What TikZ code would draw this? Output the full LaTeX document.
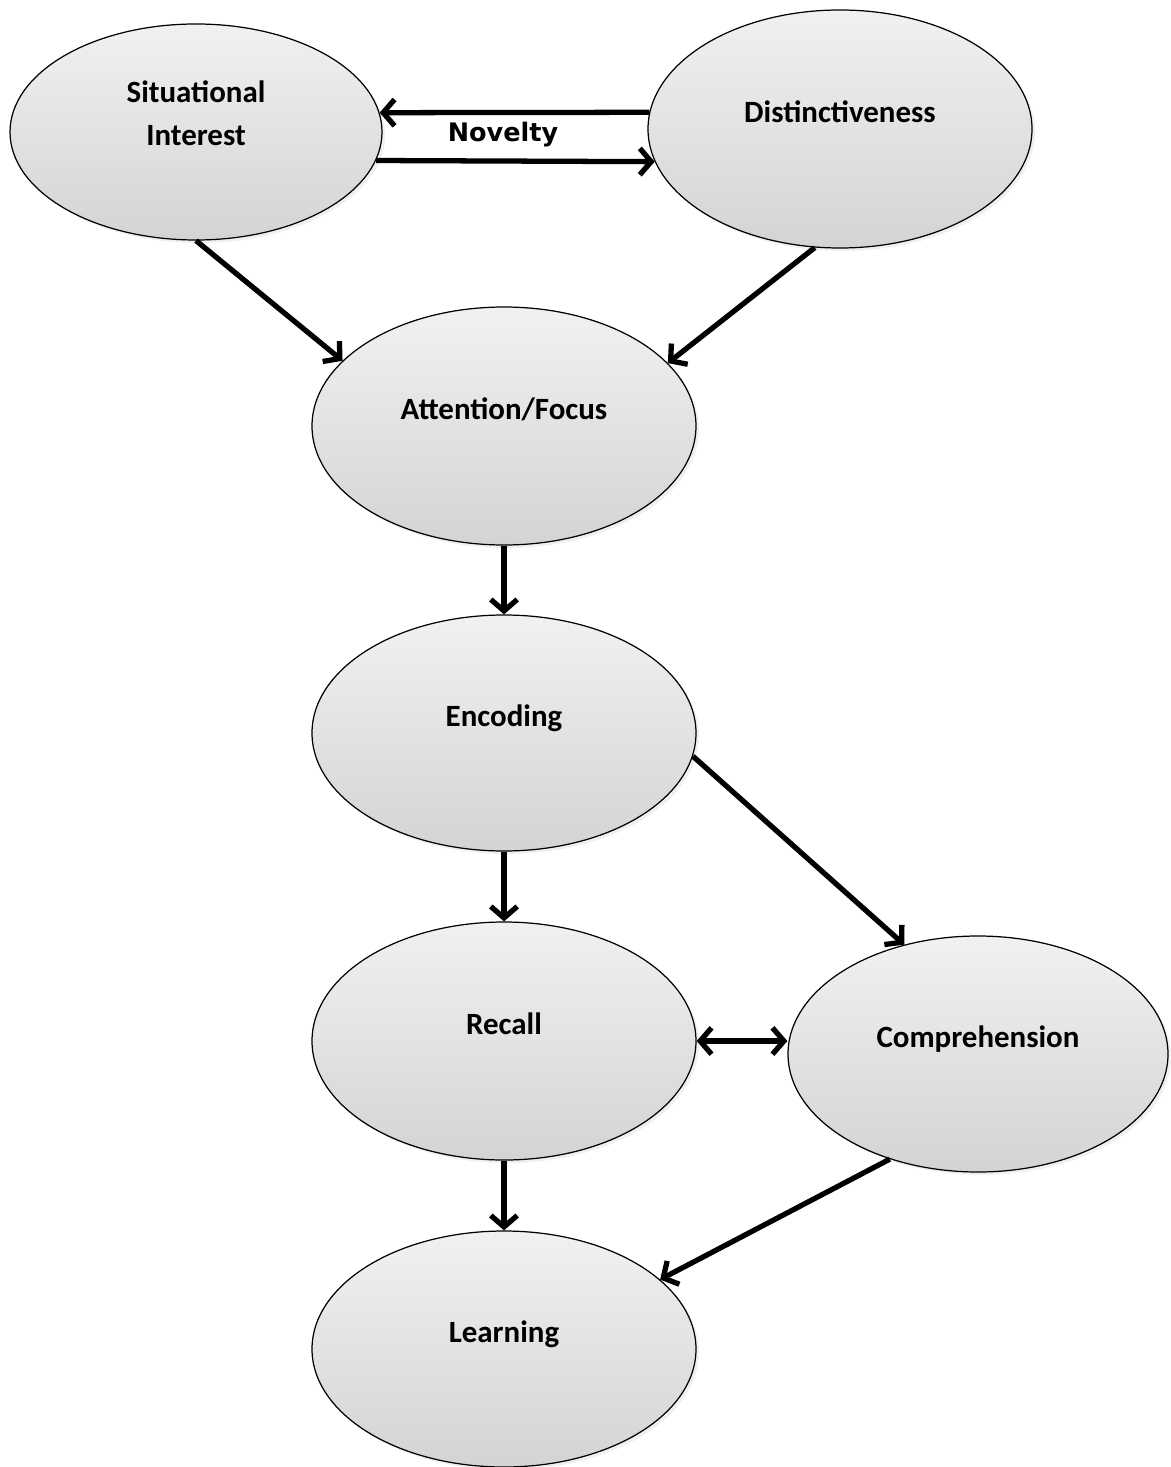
\documentclass[tikz,border=0pt]{standalone}
\usepackage{fontspec}
\setmainfont{Carlito}
\newfontfamily\novfont{DejaVu Sans}
\usepackage{tikz}
\usetikzlibrary{shapes.geometric,arrows.meta,shadows}

\tikzset{
  bubble/.style={ellipse,draw=black,line width=0.7pt,top color=gray!11,bottom color=gray!34,
    minimum width=7.68cm,minimum height=4.76cm,inner sep=0pt,align=center,
    font=\fontsize{17.6}{24.5}\selectfont\bfseries,text depth=0.68cm,
    drop shadow={opacity=0.12,shadow xshift=0.06cm,shadow yshift=-0.06cm}},
  barb/.tip={Straight Barb[length=6.5pt,width=15pt,line width=3pt]},
  arr/.style={line width=3pt,-barb},
}

\begin{document}
\begin{tikzpicture}
\useasboundingbox (0,0) rectangle (23.4,-29.34);

\node[bubble,minimum width=7.44cm,minimum height=4.32cm,text depth=0.76cm] (si) at (3.92,-2.64) {Situational\\Interest};
\node[bubble] (dist) at (16.8,-2.58) {Distinctiveness};
\node[bubble] (att) at (10.08,-8.52) {Attention/Focus};
\node[bubble,minimum height=4.72cm] (enc) at (10.08,-14.66) {Encoding};
\node[bubble] (rec) at (10.08,-20.82) {Recall};
\node[bubble,minimum width=7.6cm,minimum height=4.72cm] (comp) at (19.56,-21.08) {Comprehension};
\node[bubble,minimum height=4.72cm] (learn) at (10.08,-26.98) {Learning};

% novelty link
\draw[arr] (dist.175) -- (si.6);
\draw[arr] (si.-9) -- (dist.-170);
\node[font=\novfont\bfseries\fontsize{14.5}{16}\selectfont] (nov) at (10.06,-2.7) {Novelty};

\draw[arr] (si.south) -- (att.158);
\draw[arr] (dist.258) -- (att.21);
\draw[arr] (att.south) -- (enc.north);
\draw[arr] (enc.-7) -- (comp.124);
\draw[arr] (enc.south) -- (rec.north);
\draw[line width=3pt,barb-barb] (rec.east) -- (rec.east -| comp.west);
\draw[arr] (rec.south) -- (learn.north);
\draw[arr] (comp.230) -- (learn.24);
\end{tikzpicture}
\end{document}
